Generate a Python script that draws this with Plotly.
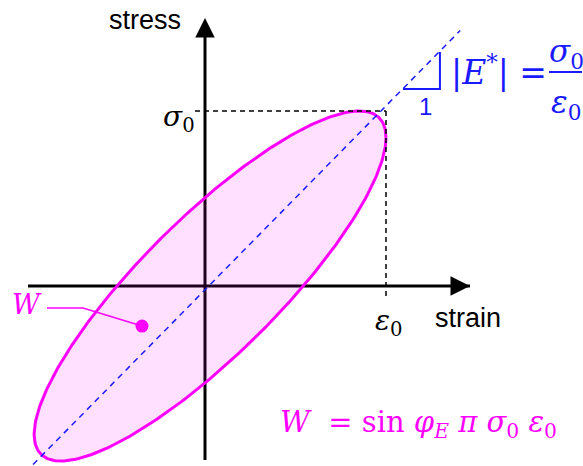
import numpy as np
import plotly.graph_objects as go

# canvas geometry (pixels) -> data units (strain in eps0, stress in sigma0)
W_PX, H_PX = 583, 466
ORIGIN_PX = (205, 286)
UNIT_PX = (181, 175)


def dx(px):
    return (px - ORIGIN_PX[0]) / UNIT_PX[0]


def dy(py):
    return (ORIGIN_PX[1] - py) / UNIT_PX[1]


# hysteresis loop (strain = eps0 cos t, stress = sigma0 cos(t - phase))
loop_center = [0.028, 0.0]
loop_amp = [0.972, 1.0]
phase_deg = 32

# axes extents
strain_axis = [-0.978, 1.464]
stress_axis = [-0.994, 1.531]

# amplitude markers
eps0 = 1.0
sigma0 = 1.0

# dashed modulus line and slope triangle
mod_x = [-0.95, 1.41]
mod_y = [-1.02, 1.46]
tri_x = [1.094, 1.298, 1.298]
tri_y = [1.126, 1.126, 1.337]

# W pointer
ptr_x = [-0.873, -0.674, -0.348]
ptr_y = [-0.126, -0.126, -0.229]

BLUE = "#1a1aff"
MAG = "#ff00ff"
MATH = "DejaVu Serif"
SANS = "Liberation Sans, Arial"

t = np.linspace(0, 2 * np.pi, 400)
ph = np.deg2rad(phase_deg)
loop_x = loop_center[0] + loop_amp[0] * np.cos(t)
loop_y = loop_center[1] + loop_amp[1] * np.cos(t - ph)

fig = go.Figure()

# axes lines
fig.add_trace(go.Scatter(x=strain_axis, y=[0, 0], mode="lines",
                         line=dict(color="black", width=3), hoverinfo="skip"))
fig.add_trace(go.Scatter(x=[0, 0], y=[stress_axis[0], stress_axis[1] - 0.05], mode="lines",
                         line=dict(color="black", width=3), hoverinfo="skip"))

# loop
fig.add_trace(go.Scatter(x=loop_x, y=loop_y, mode="lines", fill="toself",
                         fillcolor="rgba(255,0,255,0.12)",
                         line=dict(color=MAG, width=3), hoverinfo="skip"))

# dashed amplitude lines
fig.add_trace(go.Scatter(x=[dx(195), eps0], y=[sigma0, sigma0], mode="lines",
                         line=dict(color="black", width=1.5, dash="5px,4px"), hoverinfo="skip"))
fig.add_trace(go.Scatter(x=[eps0, eps0], y=[sigma0, dy(300)], mode="lines",
                         line=dict(color="black", width=1.5, dash="5px,4px"), hoverinfo="skip"))

# modulus line
fig.add_trace(go.Scatter(x=mod_x, y=mod_y, mode="lines",
                         line=dict(color=BLUE, width=1.5, dash="6px,5px"), hoverinfo="skip"))
fig.add_trace(go.Scatter(x=tri_x, y=tri_y, mode="lines",
                         line=dict(color=BLUE, width=2), hoverinfo="skip"))

# W pointer
fig.add_trace(go.Scatter(x=ptr_x, y=ptr_y, mode="lines",
                         line=dict(color=MAG, width=1.5), hoverinfo="skip"))
fig.add_trace(go.Scatter(x=ptr_x[-1:], y=ptr_y[-1:], mode="markers",
                         marker=dict(color=MAG, size=13), hoverinfo="skip"))

# arrow heads
for x, y, ax, ay in [(strain_axis[1], 0, strain_axis[1] - 0.1, 0),
                     (0, stress_axis[1], 0, stress_axis[1] - 0.1)]:
    fig.add_annotation(x=x, y=y, ax=ax, ay=ay, xref="x", yref="y", axref="x", ayref="y",
                       showarrow=True, arrowhead=2, arrowsize=1.3, arrowwidth=3,
                       arrowcolor="black", text="")


def label(x, y, text, size, color="black", family=MATH, xanchor="center"):
    fig.add_annotation(x=x, y=y, xref="x", yref="y", text=text, showarrow=False,
                       xanchor=xanchor, yanchor="middle",
                       font=dict(family=family, size=size, color=color))


label(dx(145), dy(20), "stress", 27, family=SANS)
label(dx(468), dy(318), "strain", 27, family=SANS)
label(dx(179), dy(118), "<i>σ</i><sub>0</sub>", 28)
label(dx(389), dy(322), "<i>ε</i><sub>0</sub>", 28)
label(dx(27), dy(304), "<i>W</i>", 27, color=MAG)
label(dx(425), dy(106), "1", 24, color=BLUE, family=SANS)
label(dx(449), dy(70), "|<i>E</i><sup>*</sup>| =", 33, color=BLUE, xanchor="left")
label(dx(566), dy(53), "<i>σ</i><sub>0</sub>", 31, color=BLUE)
label(dx(566), dy(104), "<i>ε</i><sub>0</sub>", 31, color=BLUE)
fig.add_shape(type="line", x0=dx(549), x1=dx(582), y0=dy(72), y1=dy(72),
              line=dict(color=BLUE, width=2))
label(dx(278), dy(424),
      "<i>W</i>  = sin <i>φ</i><sub><i>E</i></sub> <i>π σ</i><sub>0</sub> <i>ε</i><sub>0</sub>",
      29, color=MAG, xanchor="left")

fig.update_layout(
    width=W_PX, height=H_PX, margin=dict(l=0, r=0, t=0, b=0),
    paper_bgcolor="white", plot_bgcolor="white", showlegend=False,
    xaxis=dict(range=[dx(0), dx(W_PX)], visible=False, fixedrange=True),
    yaxis=dict(range=[dy(H_PX), dy(0)], visible=False, fixedrange=True),
)

fig.write_html("out.html", config={"displayModeBar": False},
               post_script="document.body.style.margin='0';")
